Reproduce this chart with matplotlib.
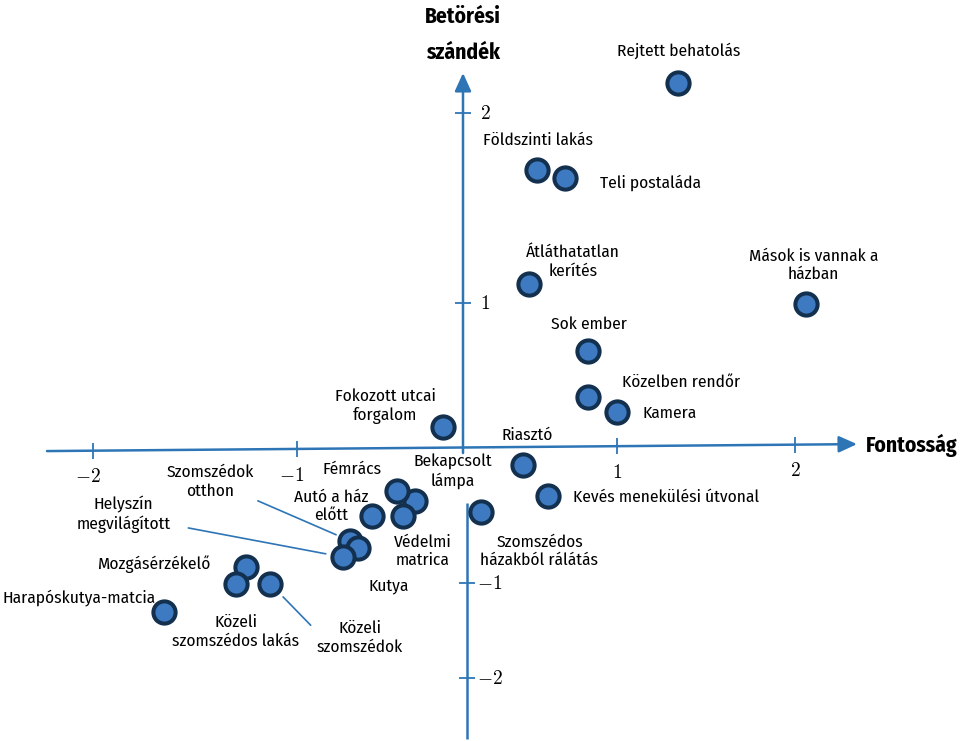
import numpy as np
import matplotlib
matplotlib.use("Agg")
import matplotlib.pyplot as plt
from matplotlib import font_manager as fm

# condensed sans close to the original (pick the first that is installed)
installed = {f.name for f in fm.fontManager.ttflist}
wanted = ["Fira Sans Condensed", "PT Sans Narrow", "Asap Condensed",
          "Barlow Semi Condensed", "Roboto"]
narrow = [n for n in wanted if n in installed][:1]
plt.rcParams["font.family"] = narrow + ["DejaVu Sans"]
plt.rcParams["mathtext.fontset"] = "cm"

# --- data (Fontosság, Betörési szándék) ---
labels = [
    "Rejtett behatolás", "Földszinti lakás", "Teli postaláda",
    "Átláthatatlan\nkerítés", "Mások is vannak a\nházban", "Sok ember",
    "Közelben rendőr", "Kamera", "Fokozott utcai\nforgalom", "Riasztó",
    "Bekapcsolt\nlámpa", "Kevés menekülési útvonal",
    "Szomszédos\nházakból rálátás", "Fémrács", "Autó a ház\nelőtt",
    "Védelmi\nmatrica", "Szomszédok\notthon", "Kutya",
    "Helyszín\nmegvilágított", "Mozgásérzékelő", "Közeli\nszomszédos lakás",
    "Közeli\nszomszédok", "Harapóskutya-matcia",
]
fontossag = [1.34, 0.48, 0.66, 0.43, 2.06, 0.81, 0.81, 1.00, -0.12, 0.39,
             -0.29, 0.55, 0.12, -0.40, -0.55, -0.36, -0.68, -0.63, -0.72,
             -1.25, -1.30, -1.13, -1.65]
szandek = [2.16, 1.70, 1.66, 1.10, 0.99, 0.67, 0.35, 0.24, 0.14, -0.13,
           -0.40, -0.36, -0.48, -0.32, -0.51, -0.51, -0.69, -0.74, -0.81,
           -0.88, -1.01, -1.01, -1.31]

tick_vals = [-2, -1, 1, 2]
tick_labels = [r"$-2$", r"$-1$", r"$1$", r"$2$"]

# the drawing's axes are not evenly spaced: anchor each unit to where it was drawn
anchor_vals = [-2, -1, 0, 1, 2]
x_anchor_px = [93, 297, 463, 617, 795]
y_anchor_px = [63, 158, 294, 438, 628]   # from the bottom edge

# label offsets in pixels (dx, dy, ha)
label_pos = {
    "Rejtett behatolás": (1, 32, "center"),
    "Földszinti lakás": (1, 30, "center"),
    "Teli postaláda": (35, -5, "left"),
    "Átláthatatlan\nkerítés": (44, 22, "center"),
    "Mások is vannak a\nházban": (8, 39, "center"),
    "Sok ember": (1, 26, "center"),
    "Közelben rendőr": (34, 14, "left"),
    "Kamera": (25, -1, "left"),
    "Fokozott utcai\nforgalom": (-58, 21, "center"),
    "Riasztó": (4, 29, "center"),
    "Bekapcsolt\nlámpa": (38, 30, "center"),
    "Kevés menekülési útvonal": (25, -1, "left"),
    "Szomszédos\nházakból rálátás": (58, -39, "center"),
    "Fémrács": (-45, 21, "center"),
    "Autó a ház\nelőtt": (-41, 10, "center"),
    "Védelmi\nmatrica": (19, -35, "center"),
    "Szomszédok\notthon": (-140, 59, "center"),
    "Kutya": (30, -38, "center"),
    "Helyszín\nmegvilágított": (-220, 43, "center"),
    "Mozgásérzékelő": (-92, 3, "center"),
    "Közeli\nszomszédos lakás": (0, -48, "center"),
    "Közeli\nszomszédok": (89, -54, "center"),
    "Harapóskutya-matcia": (-85, 15, "center"),
}
# leader lines: relpos on the text, shrink at text / at point (points)
leaders = {
    "Szomszédok\notthon": ((1.0, 0.0), 1, 11),
    "Helyszín\nmegvilágított": ((1.0, 0.22), 11, 13),
    "Közeli\nszomszédok": ((0.0, 0.7), 3, 13),
}

BLUE = "#2E75B6"
FILL = "#3E7AC2"
EDGE = "#13304F"


def piecewise(xp, fp):
    xp = np.asarray(xp, float)
    fp = np.asarray(fp, float)
    lo = (fp[1] - fp[0]) / (xp[1] - xp[0])
    hi = (fp[-1] - fp[-2]) / (xp[-1] - xp[-2])

    def f(v):
        v = np.asarray(v, float)
        out = np.interp(v, xp, fp)
        out = np.where(v < xp[0], fp[0] + (v - xp[0]) * lo, out)
        out = np.where(v > xp[-1], fp[-1] + (v - xp[-1]) * hi, out)
        return out
    return f


fx, ix = piecewise(anchor_vals, x_anchor_px), piecewise(x_anchor_px, anchor_vals)
fy, iy = piecewise(anchor_vals, y_anchor_px), piecewise(y_anchor_px, anchor_vals)

fig = plt.figure(figsize=(9.63, 7.41), dpi=100)
ax = fig.add_axes([0, 0, 1, 1])
ax.set_xscale("function", functions=(fx, ix))
ax.set_yscale("function", functions=(fy, iy))
ax.set_xlim(float(ix(0)), float(ix(963)))
ax.set_ylim(float(iy(0)), float(iy(741)))
ax.axis("off")

# --- axes with arrows ---
ax_x0, ax_x1 = float(ix(47)), float(ix(857))
ax_y0, ax_y1 = -0.03, 0.02   # the x axis is drawn slightly tilted
ax.annotate("", xy=(ax_x1, ax_y1), xytext=(ax_x0, ax_y0),
            arrowprops=dict(arrowstyle="-|>,head_length=1.1,head_width=0.5",
                            mutation_scale=10, color=BLUE, lw=1.8,
                            shrinkA=0, shrinkB=0))
ax.annotate("", xy=(0, float(iy(741 - 73))), xytext=(0, float(iy(741 - 453))),
            arrowprops=dict(arrowstyle="-|>,head_length=1.1,head_width=0.5",
                            mutation_scale=10, color=BLUE, lw=1.8,
                            shrinkA=0, shrinkB=0))
x_low = float(ix(467))
ax.plot([x_low, x_low], [float(iy(741 - 503)), float(iy(741 - 739))],
        color=BLUE, lw=1.8, solid_capstyle="butt")

# ticks
tick_y = np.interp(tick_vals, [ax_x0, ax_x1], [ax_y0, ax_y1])
ax.plot(tick_vals, tick_y, ls="none", marker="|", ms=11, mew=1.3, color=BLUE)
ax.plot([0, 0, x_low, x_low], tick_vals[::-1], ls="none", marker="_",
        ms=12, mew=1.3, color=BLUE)
for v, ty, t in zip(tick_vals, tick_y, tick_labels):
    ax.annotate(t, xy=(v, ty), xytext=(-5 if v < 0 else 0, -26),
                textcoords="offset pixels", ha="center", va="center",
                fontsize=14)
for v, t in zip(tick_vals, tick_labels):
    xx = 0 if v > 0 else x_low
    ax.annotate(t, xy=(xx, v), xytext=(10 if v < 0 else 17, 0),
                textcoords="offset pixels", ha="left", va="center",
                fontsize=14)

# --- points ---
ax.scatter(fontossag, szandek, s=16 ** 2, c=FILL, edgecolors=EDGE,
           linewidths=2.9, zorder=3)

for lab, x, y in zip(labels, fontossag, szandek):
    dx, dy, ha = label_pos[lab]
    kw = {}
    if lab in leaders:
        rp, sa, sb = leaders[lab]
        kw["arrowprops"] = dict(arrowstyle="-", color=BLUE, lw=1.2,
                                relpos=rp, shrinkA=sa, shrinkB=sb)
    ax.annotate(lab, xy=(x, y), xytext=(dx, dy), textcoords="offset pixels",
                ha=ha, va="center", fontsize=12.5, linespacing=1.2, **kw)

fig.text(463 / 963, 1 - 35 / 741, "Betörési\nszándék", ha="center",
         va="center", fontsize=15.5, fontweight="bold", linespacing=1.85)
fig.text(866 / 963, 1 - 445 / 741, "Fontosság", ha="left", va="center",
         fontsize=15.5, fontweight="bold")

fig.savefig("out.png", dpi=100)
